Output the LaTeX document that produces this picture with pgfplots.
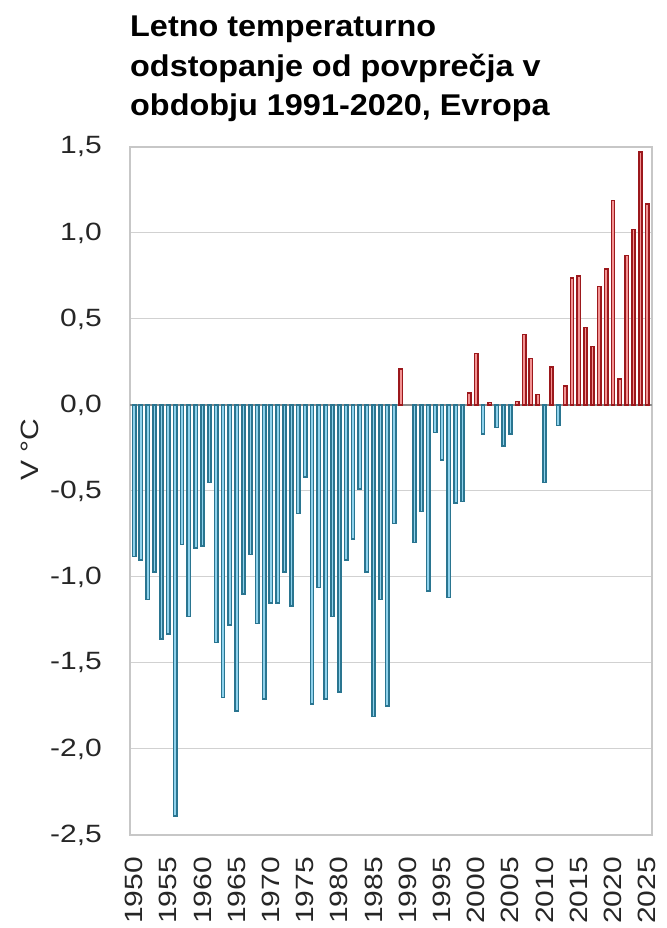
\documentclass[border=0pt]{standalone}
\usepackage{fontspec}
\setmainfont{Liberation Sans}
\newfontfamily\tickfont{Liberation Sans}[FakeStretch=1.2]
\newfontfamily\titlefont{Liberation Sans}[FakeStretch=1.08]
\usepackage{pgfplots}
\pgfplotsset{compat=1.18}
\definecolor{blueedge}{HTML}{2A7590}
\definecolor{bluefill}{HTML}{8FD2EC}
\definecolor{rededge}{HTML}{9C181C}
\definecolor{redfill}{HTML}{F39494}
\begin{document}
\begin{tikzpicture}
\useasboundingbox (0,0) rectangle (666pt,928pt);
\begin{axis}[
  at={(130pt,93pt)}, anchor=south west,
  scale only axis, width=522pt, height=688pt,
  xmin=1949.4, xmax=2025.7,
  ymin=-2.5, ymax=1.5,
  ytick={-2.5,-2,-1.5,-1,-0.5,0,0.5,1,1.5},
  yticklabels={{-2,5},{-2,0},{-1,5},{-1,0},{-0,5},{0,0},{0,5},{1,0},{1,5}},
  xtick={1950,1955,1960,1965,1970,1975,1980,1985,1990,1995,2000,2005,2010,2015,2020,2025},
  xticklabels={1950,1955,1960,1965,1970,1975,1980,1985,1990,1995,2000,2005,2010,2015,2020,2025},
  major tick length=0pt,
  every tick label/.append style={inner sep=0pt, font=\tickfont\fontsize{25}{30}\selectfont, text=black!85},
  yticklabel shift=28pt,
  xticklabel shift=22pt,
  xticklabel style={rotate=90, anchor=east},
  ymajorgrids,
  grid style={draw=black!18, line width=1pt},
  extra y ticks={0},
  extra y tick labels={},
  extra y tick style={grid style={draw=black!45, line width=1.2pt}},
  axis line style={draw=black!22, line width=1.3pt},
  ylabel={V °C},
  every axis y label/.style={at={(axis description cs:-0.1916,0.56)}, rotate=90, anchor=center, inner sep=0pt, font=\tickfont\fontsize{25}{28}\selectfont, text=black!85},
  title={Letno temperaturno\\odstopanje od povprečja v\\obdobju 1991-2020, Evropa},
  title style={at={(axis description cs:0,1)}, anchor=south west, align=left, inner sep=0pt, yshift=19pt, font=\titlefont\bfseries\fontsize{30}{39.5}\selectfont},
]
\addplot[ybar, bar shift=0pt, bar width=3.3pt, draw=blueedge, fill=bluefill, line width=1.6pt] coordinates {
(1950,-0.88) (1951,-0.90) (1952,-1.13) (1953,-0.97) (1954,-1.36) (1955,-1.33)
(1956,-2.39) (1957,-0.81) (1958,-1.23) (1959,-0.83) (1960,-0.82) (1961,-0.45)
(1962,-1.38) (1963,-1.70) (1964,-1.28) (1965,-1.78) (1966,-1.10) (1967,-0.87)
(1968,-1.27) (1969,-1.71) (1970,-1.15) (1971,-1.15) (1972,-0.97) (1973,-1.17)
(1974,-0.63) (1975,-0.42) (1976,-1.74) (1977,-1.06) (1978,-1.71) (1979,-1.23)
(1980,-1.67) (1981,-0.90) (1982,-0.78) (1983,-0.49) (1984,-0.97) (1985,-1.81)
(1986,-1.13) (1987,-1.75) (1988,-0.69) (1991,-0.80) (1992,-0.62) (1993,-1.08)
(1994,-0.16) (1995,-0.32) (1996,-1.12) (1997,-0.57) (1998,-0.56) (2001,-0.17)
(2003,-0.13) (2004,-0.24) (2005,-0.17) (2010,-0.45) (2012,-0.12)
};
\addplot[ybar, bar shift=0pt, bar width=3.3pt, draw=rededge, fill=redfill, line width=1.6pt] coordinates {
(1989,0.21) (1999,0.07) (2000,0.30) (2002,0.015) (2006,0.02) (2007,0.41)
(2008,0.27) (2009,0.06) (2011,0.22) (2013,0.11) (2014,0.74) (2015,0.75)
(2016,0.45) (2017,0.34) (2018,0.69) (2019,0.79) (2020,1.19) (2021,0.15)
(2022,0.87) (2023,1.02) (2024,1.47) (2025,1.17)
};
\end{axis}
\end{tikzpicture}
\end{document}
